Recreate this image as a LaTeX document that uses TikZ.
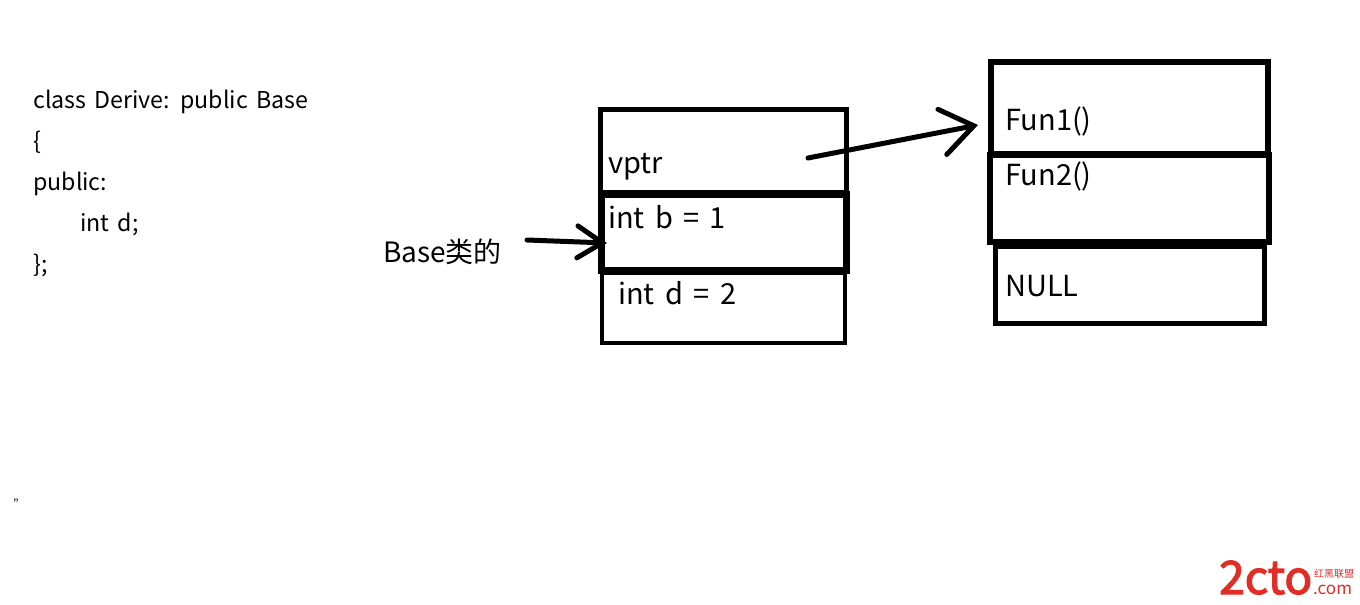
\documentclass[tikz,border=0pt]{standalone}
\usepackage{fontspec}
\setmainfont[WordSpace=1.6]{Noto Sans CJK SC}
\newfontfamily\wmfont[FakeBold=2.5]{Noto Sans CJK SC}
\usepackage{xcolor}
\usetikzlibrary{arrows.meta}

\definecolor{wmred}{RGB}{226,44,38}

\tikzset{
  cell/.style={draw, line width=5pt, inner sep=0pt},
  memtext/.style={anchor=base west, inner sep=0pt, font=\fontsize{29}{34}\selectfont},
  codetext/.style={anchor=base west, inner sep=0pt, font=\fontsize{23.2}{28}\selectfont},
  pen/.style={line width=5pt, line cap=round},
}

\begin{document}
\begin{tikzpicture}[x=1pt,y=-1pt]
\useasboundingbox (0,0) rectangle (1360,605);

% the class
\node[codetext] (code1) at (33,108) {class Derive: public Base};
\node[codetext] (code2) at (33,149) {\{};
\node[codetext] (code3) at (33,190) {public:};
\node[codetext] (code4) at (80,231) {int d;};
\node[codetext] (code5) at (33,272) {\};};

% object layout
\node[cell, minimum width=246pt, minimum height=83pt] (vptrbox) at (723,150.5) {};
\node[cell, line width=7pt, minimum width=245pt, minimum height=76pt] (intbbox) at (723.5,232) {};
\node[cell, line width=4.5pt, minimum width=243pt, minimum height=70pt] (intdbox) at (723.5,308) {};
\node[memtext] (vptr) at (608,173) {vptr};
\node[memtext] (intb) at (608,228) {int b = 1};
\node[memtext] (intd) at (618,304) {int d = 2};

% vtable
\node[cell, line width=6pt, minimum width=277pt, minimum height=92pt] (fun1box) at (1129,108) {};
\node[cell, line width=6pt, minimum width=279pt, minimum height=87pt] (fun2box) at (1129.5,198) {};
\node[cell, minimum width=269pt, minimum height=77pt] (nullbox) at (1130,284.5) {};
\node[memtext] (fun1) at (1005,130) {Fun1()};
\node[memtext] (fun2) at (1005,185) {Fun2()};
\node[memtext] (null) at (1005,296) {NULL};

% Base part
\node[memtext, font=\fontsize{28}{32}\selectfont] (basetxt) at (383,262) {Base类的};

\coordinate (bfrom) at (527,240);
\coordinate (bto) at (607,243);
\coordinate (vfrom) at (808,158);
\coordinate (vto) at (978,125);
\draw[pen, -{Straight Barb[length=25pt,width=32pt,line cap=round]}] (bfrom) -- (bto);
\draw[pen, -{Straight Barb[length=32pt,width=46pt,line cap=round]}] (vfrom) -- (vto);

\node[anchor=base west, inner sep=0pt, font=\fontsize{12}{12}\selectfont] (mark) at (13,500) {,,};

% watermark
\node[anchor=base west, inner sep=0pt, text=wmred, font=\fontsize{46}{46}\wmfont] (wm) at (1219,594) {2cto};
\node[anchor=base west, inner sep=0pt, text=wmred, font=\fontsize{10}{10}\selectfont] (wmcn) at (1314,577) {红黑联盟};
\node[anchor=base west, inner sep=0pt, text=wmred, font=\fontsize{17}{17}\selectfont] (wmcom) at (1313,594) {.com};
\end{tikzpicture}
\end{document}
